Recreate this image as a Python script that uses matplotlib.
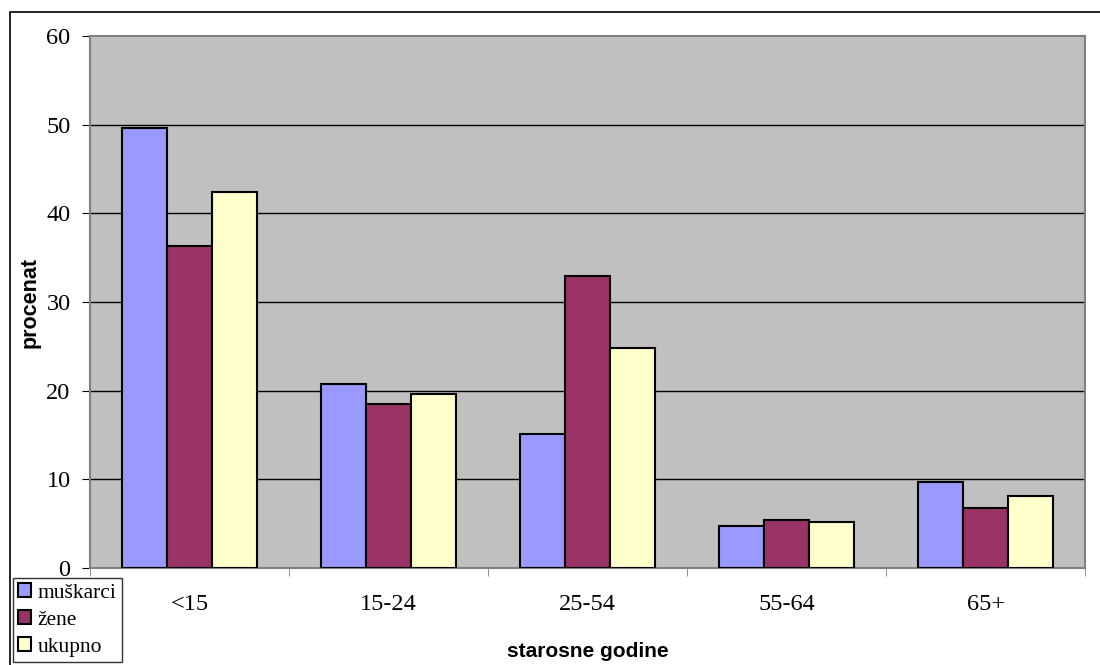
import numpy as np
import matplotlib
matplotlib.use("Agg")
import matplotlib.pyplot as plt
from matplotlib.patches import Rectangle

categories = ["<15", "15-24", "25-54", "55-64", "65+"]
muskarci = [49.6, 20.7, 15.1, 4.7, 9.7]
zene = [36.3, 18.5, 32.9, 5.4, 6.8]
ukupno = [42.4, 19.6, 24.8, 5.2, 8.1]
series_names = ["muškarci", "žene", "ukupno"]
colors = ["#9999ff", "#993366", "#ffffcc"]

fig = plt.figure(figsize=(11, 6.65), dpi=100)
ax = fig.add_axes([90 / 1100, 97 / 665, 995 / 1100, 532 / 665])
ax.set_facecolor("#c0c0c0")

x = np.arange(len(categories))
w = 0.225
for i, (vals, name, c) in enumerate(zip([muskarci, zene, ukupno], series_names, colors)):
    ax.bar(x + (i - 1) * w, vals, w, color=c, edgecolor="black", linewidth=1.5,
           label=name, zorder=3)

ax.set_xlim(-0.5, len(categories) - 0.5)
ax.set_ylim(0, 60)
ax.set_yticks(range(0, 61, 10))
for y in range(10, 60, 10):
    ax.axhline(y, color="black", linewidth=1.0, zorder=1)

ax.set_xticks(x)
ax.set_xticklabels(categories, family="Liberation Serif", fontsize=17.5)
ax.set_xticks(np.arange(-0.5, len(categories)), minor=True)
ax.tick_params(axis="x", which="major", length=0, pad=19)
ax.tick_params(axis="x", which="minor", length=6, color="#808080")
ax.tick_params(axis="y", length=6, color="black", pad=8)
for lab in ax.get_yticklabels():
    lab.set_family("Liberation Serif")
    lab.set_fontsize(17.5)

for s in ax.spines.values():
    s.set_color("#808080")
    s.set_linewidth(1.5)

ax.set_xlabel("starosne godine", family="Liberation Sans", fontweight="bold",
              fontsize=15, labelpad=19)
ax.set_ylabel("procenat", family="Liberation Sans", fontweight="bold",
              fontsize=15.5, labelpad=4)

# outer chart frame
fig.patches.append(Rectangle((10 / 1100, -0.1), 1.2, 1 - 12 / 665 + 0.1,
                             transform=fig.transFigure, fill=False,
                             edgecolor="black", linewidth=1.2))

leg = fig.legend(loc="upper left", bbox_to_anchor=(13 / 1100, 1 - 578 / 665),
                 prop={"family": "Liberation Serif", "size": 15.5},
                 frameon=True, fancybox=False, edgecolor="black",
                 handlelength=0.6, handleheight=0.6, handletextpad=0.3,
                 borderpad=0.25, labelspacing=0.35, borderaxespad=0)
leg.get_frame().set_linewidth(1.0)

fig.savefig("out.png", dpi=100)
